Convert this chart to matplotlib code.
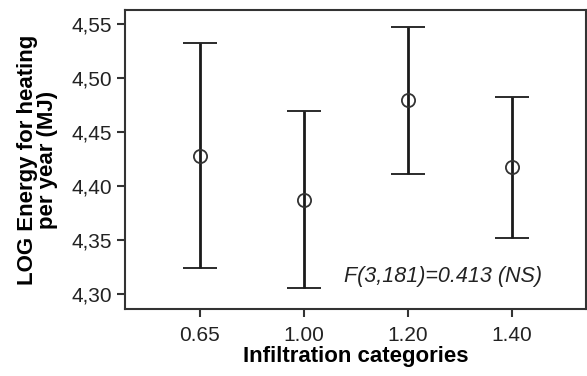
import matplotlib
matplotlib.use("Agg")
import matplotlib.pyplot as plt
import numpy as np

categories = ["0.65", "1.00", "1.20", "1.40"]
means = [4.428, 4.387, 4.480, 4.418]
upper = [4.532, 4.469, 4.547, 4.482]
lower = [4.324, 4.305, 4.411, 4.352]
yticks = [4.30, 4.35, 4.40, 4.45, 4.50, 4.55]

plt.rcParams['font.family'] = ['Liberation Sans', 'DejaVu Sans']

fig = plt.figure(figsize=(5.87, 3.76), dpi=100)
ax = fig.add_axes([125 / 587, 1 - 309 / 376, 461 / 587, 299 / 376])

x = np.arange(len(categories))
m = np.array(means)
err = [m - np.array(lower), np.array(upper) - m]
ax.errorbar(x, m, yerr=err, fmt='o', mfc='none', mec='#333333', ms=9.5, mew=1.3,
            ecolor='#1a1a1a', elinewidth=2, capsize=12, capthick=2)

ax.set_xlim(-0.72, 3.71)
ax.set_ylim(4.286, 4.563)
ax.set_xticks(x)
ax.set_xticklabels(categories)
ax.set_yticks(yticks)
ax.set_yticklabels([f"{v:.2f}".replace('.', ',') for v in yticks])
ax.tick_params(axis='both', labelsize=15, length=6, width=1.5, color='#333333', labelcolor='#222222')
ax.tick_params(axis='x', pad=6)
ax.tick_params(axis='y', pad=3)
for s in ax.spines.values():
    s.set_linewidth(1.5)
    s.set_color('#333333')

ax.set_xlabel("Infiltration categories", fontsize=16, fontweight='bold', labelpad=1)
ax.set_ylabel("LOG Energy for heating\nper year (MJ)", fontsize=16, fontweight='bold', labelpad=10, linespacing=0.95)

ax.text(2.34, 4.316, "F(3,181)=0.413 (NS)", fontsize=15.5, style='italic', ha='center', va='center', color='#222222')

fig.savefig("out.png", dpi=100)
